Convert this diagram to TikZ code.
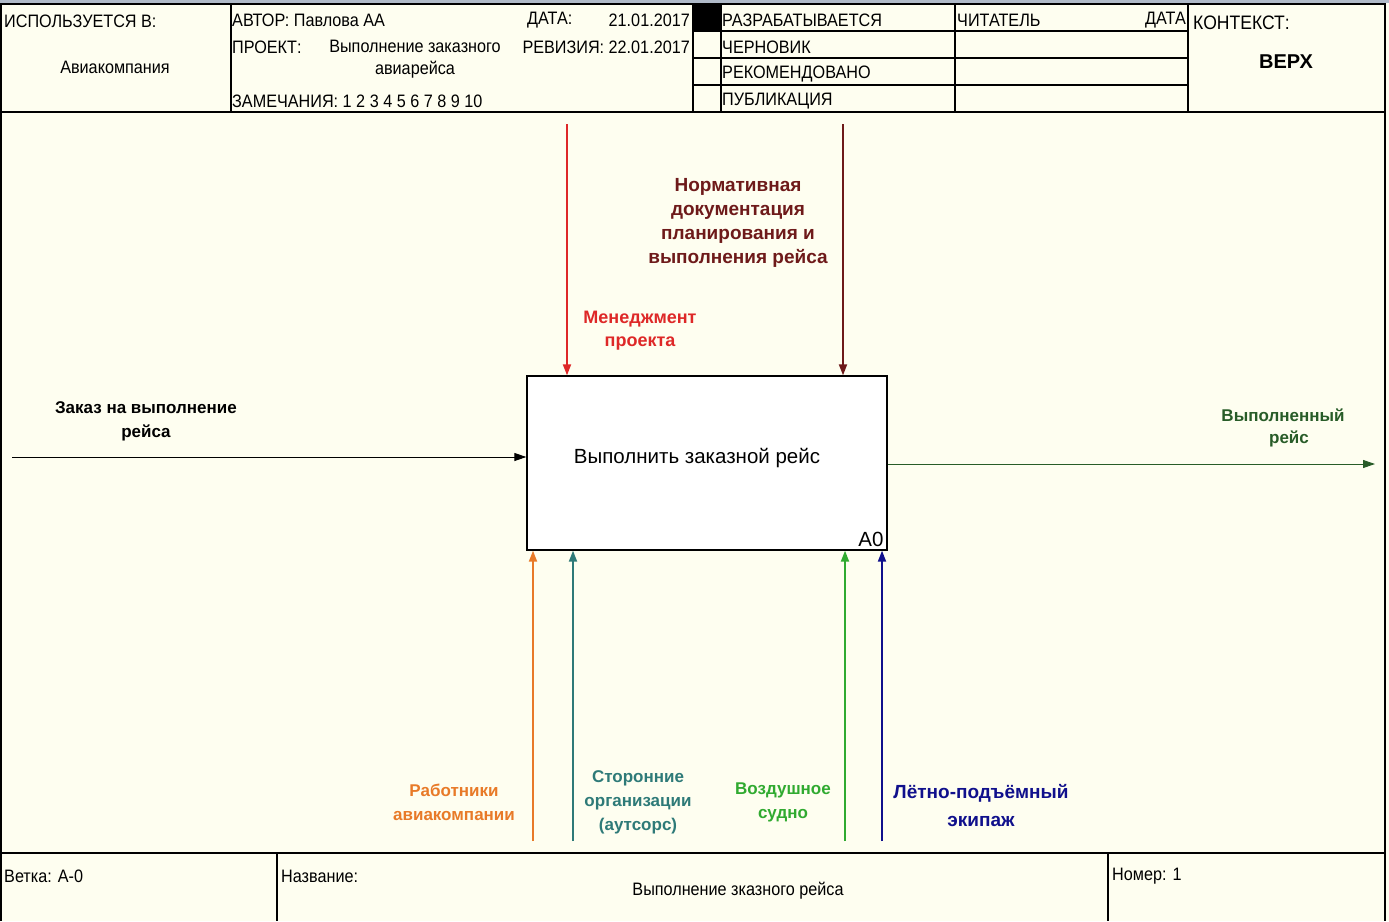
\documentclass[tikz,border=0pt]{standalone}
\usepackage{fontspec}
\setmainfont{Liberation Sans}
\newfontfamily\narrowfont[FakeStretch=0.9]{Liberation Sans}
\usetikzlibrary{arrows.meta}

\definecolor{paper}{RGB}{254,254,240}
\definecolor{strip}{RGB}{176,186,200}
\definecolor{mgmtred}{RGB}{222,40,40}
\definecolor{docsred}{RGB}{110,26,26}
\definecolor{staffor}{RGB}{232,122,40}
\definecolor{extteal}{RGB}{46,122,120}
\definecolor{planegr}{RGB}{48,170,48}
\definecolor{crewbl}{RGB}{16,16,140}
\definecolor{donegr}{RGB}{40,92,40}

\begin{document}
\begin{tikzpicture}[x=1pt,y=-1pt,
  frame/.style={line width=1.3pt},
  hdr/.style={font=\narrowfont\fontsize{18}{22}\selectfont, inner sep=0pt, anchor=west},
  lbl/.style={font=\bfseries\fontsize{17}{24}\selectfont, align=center, inner sep=0pt},
  flow/.style={line width=1.8pt, -{Triangle[length=11pt,width=8pt]}},
  thinflow/.style={line width=1pt, -{Triangle[length=12pt,width=8pt]}}]

            \useasboundingbox (0,0) rectangle (1389,921);
            \fill[paper] (0,0) rectangle (1389,921);
            \fill[strip] (0,0) rectangle (1389,3);

            % frame and header grid
            \draw[frame] (1,921) -- (1,4) -- (1385,4) -- (1385,921);
            \draw[frame] (1,112) -- (1385,112);
            \foreach \xx in {231,693,721,955,1188}
                \draw[frame] (\xx,4) -- (\xx,112);
            \foreach \yy in {31,58,85}
                \draw[frame] (693,\yy) -- (1188,\yy);
            \fill (693,4) rectangle (721,31);

            % footer grid
            \draw[frame] (1,853) -- (1385,853);
            \draw[frame] (277,853) -- (277,921);
            \draw[frame] (1108,853) -- (1108,921);

            % header texts
            \node[hdr] (usedin) at (4,21) {ИСПОЛЬЗУЕТСЯ В:};
            \node[hdr,anchor=center] (usedorg) at (115,67) {Авиакомпания};
            \node[hdr] (author) at (232,20) {АВТОР: Павлова АА};
            \node[hdr] (datekey) at (527,20) {ДАТА:};
            \node[hdr,anchor=east] (dateval) at (690,20) {21.01.2017};
            \node[hdr] (proj) at (232,47) {ПРОЕКТ:};
            \node[hdr,anchor=center,align=center] (projname) at (415,59) {Выполнение заказного\\авиарейса};
            \node[hdr,anchor=east] (rev) at (690,47) {РЕВИЗИЯ: 22.01.2017};
            \node[hdr] (notes) at (232,101) {ЗАМЕЧАНИЯ: 1 2 3 4 5 6 7 8 9 10};
            \foreach \st/\yy in {РАЗРАБАТЫВАЕТСЯ/20,ЧЕРНОВИК/47,РЕКОМЕНДОВАНО/74,ПУБЛИКАЦИЯ/101}
                \node[hdr] (st\yy) at (722,\yy) {\st};
            \node[hdr] (reader) at (957,20) {ЧИТАТЕЛЬ};
            \node[hdr,anchor=east] (readdate) at (1186,20) {ДАТА};
            \node[hdr,font=\narrowfont\fontsize{19.5}{22}\selectfont] (ctx) at (1193,23) {КОНТЕКСТ:};
            \node[font=\bfseries\fontsize{20}{22}\selectfont] (ctxtop) at (1286,62) {ВЕРХ};

            % footer texts
            \node[hdr] (branch) at (4,876) {Ветка: A-0};
            \node[hdr] (titlekey) at (281,876) {Название:};
            \node[hdr,anchor=center] (title) at (738,891) {Выполнение зказного рейса};
            \node[hdr] (number) at (1112,876) {Номер: 1};

            % activity
            \node[draw,frame,fill=white,minimum width=360pt,minimum height=174pt,inner sep=0pt] (act) at (707,463) {};
            \node[font=\fontsize{20.5}{24}\selectfont] (actname) at (697,458) {Выполнить заказной рейс};
            \node[font=\fontsize{20.5}{24}\selectfont,anchor=south east,inner sep=4pt] (actnum) at (act.south east) {A0};

            % arrow ends
            \coordinate (orderin) at (12,457);
            \coordinate (doneout) at (1375,464);
            \coordinate (mgmtin) at (567,124);
            \coordinate (docsin) at (843,124);
            \coordinate (staffin) at (533,841);
            \coordinate (extin) at (573,841);
            \coordinate (planein) at (845,841);
            \coordinate (crewin) at (882,841);

            \draw[thinflow] (orderin) -- (orderin -| act.west);
            \draw[thinflow,donegr] (act.east |- doneout) -- (doneout);
            \draw[flow,mgmtred] (mgmtin) -- (mgmtin |- act.north);
            \draw[flow,docsred] (docsin) -- (docsin |- act.north);
            \draw[flow,staffor] (staffin) -- (staffin |- act.south);
            \draw[flow,extteal] (extin) -- (extin |- act.south);
            \draw[flow,planegr] (planein) -- (planein |- act.south);
            \draw[flow,crewbl] (crewin) -- (crewin |- act.south);

            % arrow labels
            \node[lbl] (orderlbl) at (146,421) {Заказ на выполнение\\рейса};
            \node[lbl,font=\bfseries\fontsize{17}{22}\selectfont,donegr] (donelbl) at (1283,428) {Выполненный\\\hspace*{12pt}рейс};
            \node[lbl,font=\bfseries\fontsize{18}{23}\selectfont,mgmtred] (mgmtlbl) at (640,331) {Менеджмент\\проекта};
            \node[lbl,font=\bfseries\fontsize{19}{24}\selectfont,docsred] (docslbl) at (738,223) {Нормативная\\документация\\планирования и\\выполнения рейса};
            \node[lbl,staffor] (stafflbl) at (454,802) {Работники\\авиакомпании};
            \node[lbl,extteal] (extlbl) at (638,802) {Сторонние\\организации\\(аутсорс)};
            \node[lbl,planegr] (planelbl) at (783,802) {Воздушное\\судно};
            \node[lbl,font=\bfseries\fontsize{19}{28}\selectfont,crewbl] (crewlbl) at (981,806) {Лётно-подъёмный\\экипаж};

        \end{tikzpicture}
\end{document}
